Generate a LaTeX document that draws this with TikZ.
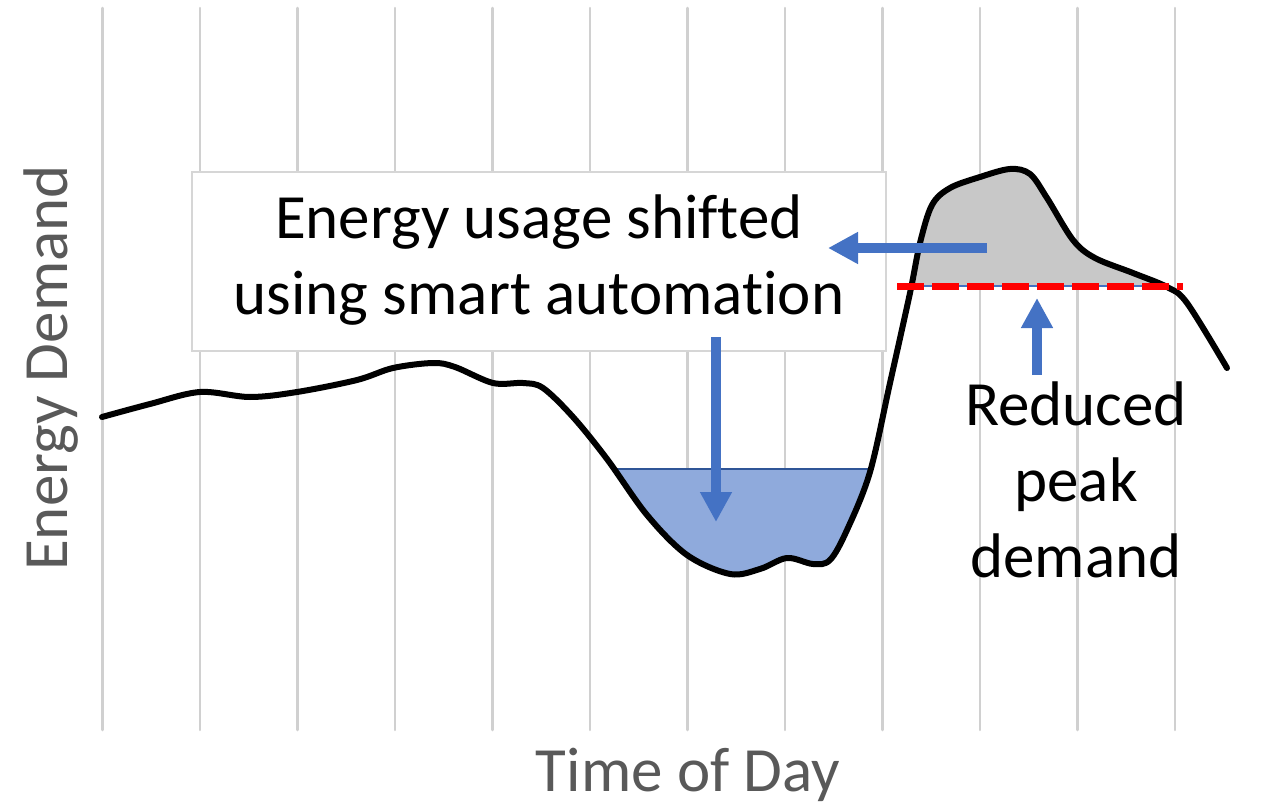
\documentclass[tikz,border=0pt]{standalone}
\usepackage{fontspec}
\setmainfont{Carlito}[Ligatures=NoCommon]
\usetikzlibrary{arrows.meta}

\definecolor{gridgray}{HTML}{D0D0D0}
\definecolor{boxgray}{HTML}{D6D6D6}
\definecolor{axisgray}{HTML}{595959}
\definecolor{arrowblue}{HTML}{4472C4}
\definecolor{shiftblue}{HTML}{8FAADC}
\definecolor{edgeblue}{HTML}{2F5597}
\definecolor{peakgray}{HTML}{C8C8C8}

\newcommand{\bigtext}{\fontsize{63}{76}\selectfont}

\begin{document}
\begin{tikzpicture}[
    x=1pt, y=-1pt,
    gridline/.style={gridgray, line width=2.5pt, line cap=round},
    demandline/.style={black, line width=6pt, line join=round, line cap=round},
    shiftbox/.style={draw=boxgray, line width=1.5pt, fill=white, minimum width=694pt,
        minimum height=179pt, inner sep=0pt, align=center, font=\bigtext},
    note/.style={inner sep=0pt, align=center, font=\bigtext},
    axis label/.style={inner sep=0pt, font=\bigtext, text=axisgray},
    shiftarrow/.style={arrowblue, line width=10pt, -{Triangle[length=30pt, width=30pt]}}
]
\useasboundingbox (0,0) rectangle (1264,805);

% Vertical grid lines
\foreach \i in {0,...,11} {
    \draw[gridline] ({102.5+97.5*\i},8) -- ({102.5+97.5*\i},730);
}

% Text box (covers the grid)
\node[shiftbox] (shiftnote) at (539,261.5) {\strut Energy usage shifted\\\strut using smart automation};

% Demand curve
\path[save path=\demandpath] plot[smooth, tension=0.55] coordinates {
    (102,417) (150,404) (200,392) (250,397) (297,392) (357,380) (393,368) (433,363)
    (455,367) (493,383) (523,383) (543,388) (573,417) (607,459) (647,515) (687,555)
    (730,574) (760,569) (787,558) (813,564) (830,560) (847,530) (870,472) (890,383)
    (910,293) (920,243) (932,205) (950,188) (980,177) (1010,169) (1030,174) (1047,198)
    (1073,240) (1095,258) (1133,273) (1167,287) (1187,303) (1227,368)};

% Valley filled with shifted usage
\begin{scope}
\clip (590,469) rectangle (895,700);
\fill[shiftblue, use path=\demandpath];
\end{scope}
\draw[edgeblue, line width=2.5pt] (611,469) -- (874,469);

% Peak that was cut off
\begin{scope}
\clip (895,100) rectangle (1200,286);
\fill[peakgray, use path=\demandpath];
\end{scope}
\draw[arrowblue, line width=2pt] (897,286) -- (1170,286);

\draw[demandline, use path=\demandpath];

% Reduced peak line
\draw[red, line width=7pt, dash pattern=on 27pt off 8pt] (897,286) -- (1183,286);

% Arrows
\coordinate (peaktail) at (987,248);
\coordinate (peakhead) at (828,248);
\coordinate (valleytail) at (716,337);
\coordinate (valleyhead) at (716,522);
\coordinate (limittail) at (1037,375);
\coordinate (limithead) at (1037,298);
\draw[shiftarrow] (peaktail) -- (peakhead);
\draw[shiftarrow] (valleytail) -- (valleyhead);
\draw[shiftarrow] (limittail) -- (limithead);

% Labels
\node[note] (reducednote) at (1076,486) {\strut Reduced\\\strut peak\\\strut demand};
\node[axis label, anchor=base] (timelabel) at (688,791) {Time of Day};
\node[axis label, rotate=90, anchor=base] (demandlabel) at (67,368) {Energy Demand};

\end{tikzpicture}
\end{document}
